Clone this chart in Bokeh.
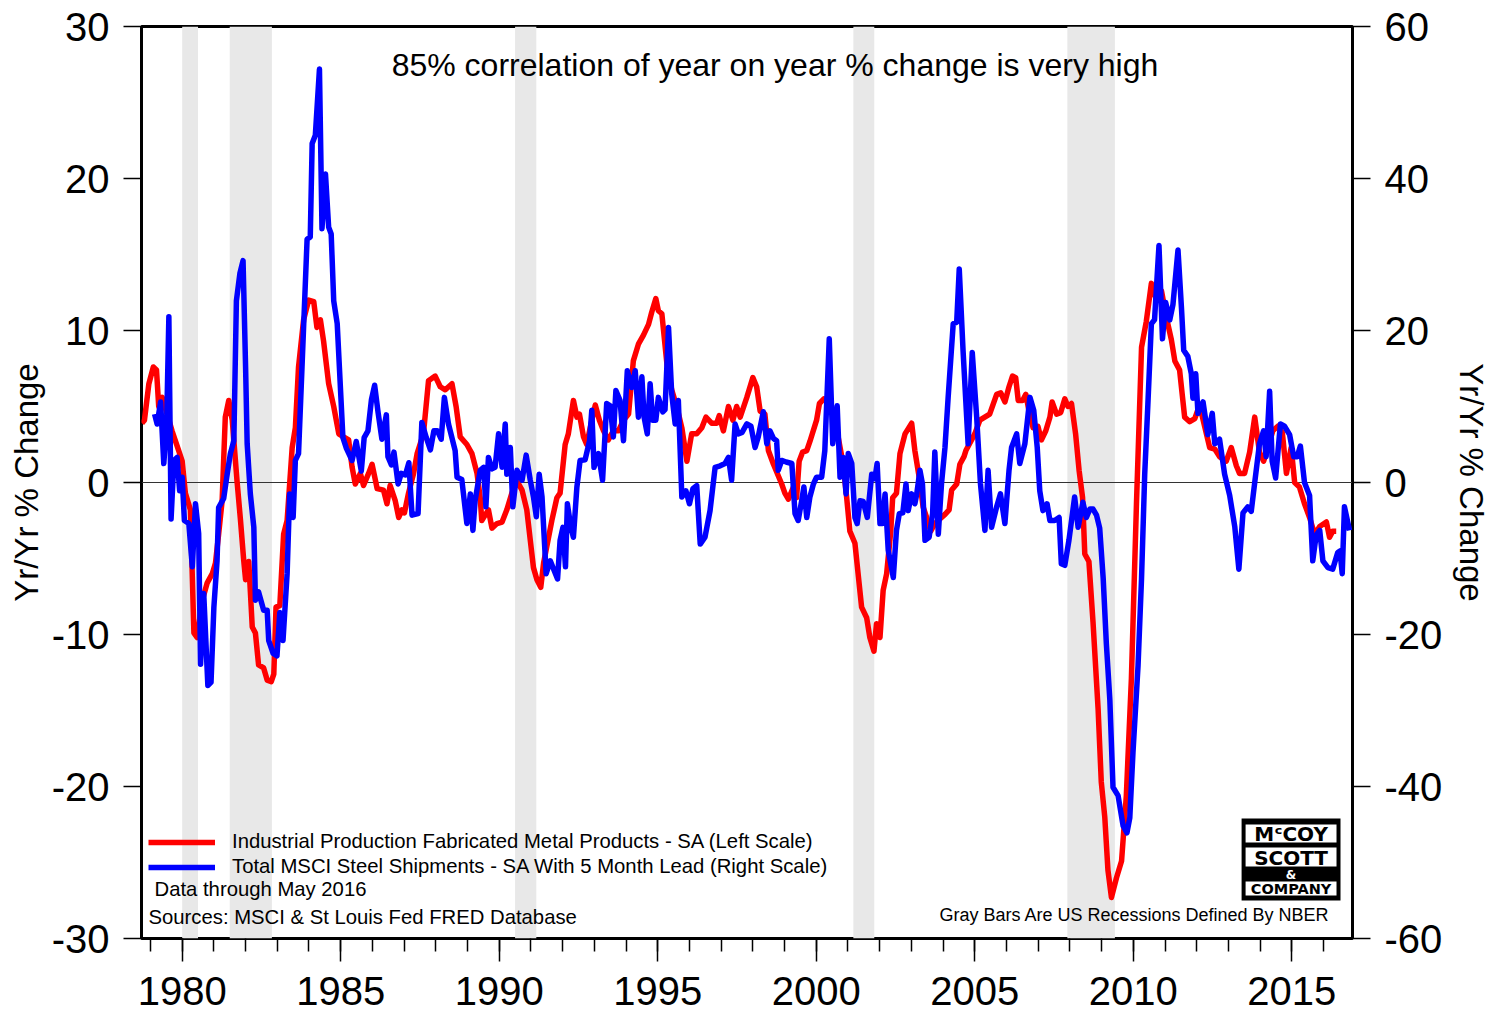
from bokeh.plotting import figure
from bokeh.models import (Range1d, LinearAxis, FixedTicker, Span, Label,
                          BoxAnnotation, Legend, LegendItem)
from bokeh.embed import file_html
from bokeh.resources import INLINE

FONT = "Liberation Sans"
LOGO_FONT = "DejaVu Sans"

# ---------------- data ----------------
# Industrial Production, Fabricated Metal Products, yr/yr % (left scale)
red_year = [1978.73, 1978.81, 1978.95, 1979.09, 1979.19, 1979.26, 1979.37, 1979.68, 1979.89, 1980.00,
            1980.10, 1980.26, 1980.37, 1980.47, 1980.63, 1980.79, 1980.95, 1981.05, 1981.15, 1981.26,
            1981.36, 1981.47, 1981.58, 1981.73, 1981.84, 1981.94, 1982.00, 1982.10, 1982.21, 1982.31,
            1982.41, 1982.57, 1982.68, 1982.81, 1982.89, 1982.96, 1983.08, 1983.20, 1983.31, 1983.47,
            1983.57, 1983.67, 1983.83, 1983.99, 1984.15, 1984.25, 1984.36, 1984.46, 1984.62, 1984.78,
            1984.94, 1985.09, 1985.25, 1985.36, 1985.46, 1985.62, 1985.72, 1985.88, 1985.99, 1986.15,
            1986.35, 1986.46, 1986.56, 1986.72, 1986.83, 1986.93, 1987.01, 1987.14, 1987.30, 1987.41,
            1987.61, 1987.77, 1987.98, 1988.14, 1988.30, 1988.51, 1988.64, 1988.77, 1988.98, 1989.14,
            1989.30, 1989.40, 1989.45, 1989.66, 1989.77, 1989.93, 1990.09, 1990.24, 1990.40, 1990.56,
            1990.72, 1990.87, 1990.98, 1991.08, 1991.19, 1991.31, 1991.40, 1991.66, 1991.82, 1991.92,
            1992.08, 1992.18, 1992.34, 1992.45, 1992.53, 1992.66, 1992.76, 1992.87, 1993.03, 1993.16,
            1993.29, 1993.44, 1993.60, 1993.76, 1993.92, 1994.08, 1994.23, 1994.39, 1994.55, 1994.71,
            1994.81, 1994.94, 1995.02, 1995.13, 1995.29, 1995.44, 1995.60, 1995.76, 1995.92, 1996.07,
            1996.23, 1996.39, 1996.52, 1996.70, 1996.86, 1996.94, 1997.07, 1997.23, 1997.37, 1997.49,
            1997.60, 1997.81, 1998.00, 1998.12, 1998.23, 1998.38, 1998.49, 1998.65, 1998.91, 1999.01,
            1999.12, 1999.28, 1999.38, 1999.46, 1999.57, 1999.70, 1999.80, 2000.01, 2000.10, 2000.24,
            2000.43, 2000.59, 2000.69, 2000.85, 2000.96, 2001.06, 2001.22, 2001.32, 2001.43, 2001.59,
            2001.69, 2001.82, 2001.90, 2002.01, 2002.11, 2002.22, 2002.35, 2002.41, 2002.53, 2002.64,
            2002.80, 2003.01, 2003.11, 2003.25, 2003.37, 2003.48, 2003.61, 2003.74, 2004.06, 2004.19,
            2004.27, 2004.43, 2004.53, 2004.66, 2004.72, 2005.00, 2005.16, 2005.47, 2005.69, 2005.82,
            2005.95, 2006.08, 2006.19, 2006.29, 2006.37, 2006.51, 2006.61, 2006.71, 2006.84, 2006.99,
            2007.10, 2007.24, 2007.37, 2007.44, 2007.58, 2007.71, 2007.84, 2007.94, 2008.05, 2008.18,
            2008.29, 2008.40, 2008.47, 2008.60, 2008.73, 2008.89, 2008.99, 2009.10, 2009.20, 2009.31,
            2009.47, 2009.63, 2009.78, 2009.94, 2010.10, 2010.26, 2010.41, 2010.57, 2010.73, 2010.89,
            2011.04, 2011.20, 2011.31, 2011.46, 2011.62, 2011.78, 2011.94, 2012.09, 2012.25, 2012.41,
            2012.57, 2012.72, 2012.93, 2013.09, 2013.25, 2013.35, 2013.51, 2013.67, 2013.83, 2013.98,
            2014.11, 2014.25, 2014.40, 2014.56, 2014.70, 2014.83, 2014.98, 2015.09, 2015.24, 2015.40,
            2015.56, 2015.72, 2015.88, 2016.09, 2016.19, 2016.29, 2016.40]
red_val = [3.9, 4.1, 6.5, 7.6, 7.4, 5.0, 5.6, 3.4, 2.1, 1.4,
           -0.7, -1.8, -9.9, -10.2, -7.8, -6.6, -6.0, -5.3, -3.4, -1.2,
           4.3, 5.4, 4.1, 0.1, -2.5, -5.1, -6.4, -5.2, -9.5, -9.9,
           -12.0, -12.2, -13.0, -13.1, -12.6, -8.2, -8.1, -3.4, -2.5, 2.3,
           3.6, 7.6, 10.7, 12.0, 11.9, 10.2, 10.7, 9.3, 6.5, 5.0,
           3.2, 3.0, 2.8, 1.0, -0.1, 0.6, -0.2, 0.6, 1.2, -0.4,
           -0.5, -1.4, -0.2, -1.2, -2.3, -1.8, -2.0, -0.7, 0.6, 1.9,
           3.2, 6.7, 7.0, 6.3, 6.1, 6.5, 5.0, 3.0, 2.5, 1.9,
           0.6, -1.0, -2.5, -1.8, -3.0, -2.7, -2.6, -1.8, -0.7, 0.1,
           -0.5, -1.8, -3.8, -5.6, -6.4, -6.9, -5.3, -2.5, -1.0, -0.7,
           2.5, 3.2, 5.4, 4.3, 4.5, 3.0, 2.5, 3.6, 5.1, 4.1,
           3.4, 2.8, 3.4, 3.4, 4.1, 4.5, 8.0, 9.1, 9.7, 10.4,
           11.2, 12.1, 11.3, 11.1, 7.8, 6.1, 5.0, 3.6, 1.4, 3.2,
           3.2, 3.6, 4.3, 3.9, 3.9, 4.4, 3.4, 5.0, 4.1, 5.0,
           4.3, 5.6, 6.9, 6.3, 4.7, 4.5, 2.1, 1.2, -0.1, -0.7,
           -1.1, -0.3, -1.0, 1.4, 2.0, 2.1, 2.7, 4.1, 5.2, 5.5,
           5.2, 4.3, 3.0, 1.2, -1.0, -3.2, -4.0, -6.0, -8.2, -8.9,
           -10.2, -11.1, -9.3, -10.2, -7.1, -6.0, -3.2, -1.0, -0.7, 1.9,
           3.2, 3.9, 2.1, 0.3, -1.6, -2.3, -3.2, -2.7, -2.1, -1.8,
           -0.5, -0.1, 1.2, 1.7, 2.1, 3.2, 4.1, 4.5, 5.8, 5.9,
           5.3, 6.3, 7.0, 6.9, 5.4, 5.4, 5.8, 4.7, 3.6, 3.7,
           2.8, 3.4, 4.3, 5.3, 4.5, 4.6, 5.5, 5.0, 5.2, 3.2,
           0.8, -1.0, -4.7, -5.2, -9.2, -14.9, -19.7, -22.0, -25.5, -27.3,
           -26.0, -24.9, -20.6, -12.9, -1.4, 8.9, 10.6, 13.1, 12.0, 12.6,
           10.9, 9.4, 8.0, 7.4, 4.3, 4.0, 4.2, 5.1, 3.7, 2.3,
           2.2, 1.7, 1.4, 2.3, 1.1, 0.6, 0.6, 2.0, 4.3, 2.0,
           1.4, 2.3, 3.4, 3.7, 3.3, 0.6, 2.3, 0.0, -0.3, -1.4,
           -2.3, -3.4, -2.9, -2.6, -3.6, -3.2, -3.2]

# Total MSCI steel shipments, yr/yr %, 5 month lead (right scale)
blue_year = [1979.13, 1979.21, 1979.32, 1979.42, 1979.51, 1979.58, 1979.65, 1979.74, 1979.84, 1979.92,
             1980.00, 1980.07, 1980.21, 1980.32, 1980.42, 1980.52, 1980.58, 1980.68, 1980.81, 1980.91,
             1981.00, 1981.10, 1981.15, 1981.31, 1981.42, 1981.52, 1981.63, 1981.71, 1981.82, 1981.92,
             1982.00, 1982.05, 1982.15, 1982.26, 1982.31, 1982.41, 1982.57, 1982.68, 1982.73, 1982.87,
             1982.99, 1983.08, 1983.18, 1983.31, 1983.39, 1983.50, 1983.57, 1983.67, 1983.78, 1983.94,
             1984.04, 1984.10, 1984.20, 1984.33, 1984.41, 1984.52, 1984.62, 1984.70, 1984.78, 1984.89,
             1985.07, 1985.18, 1985.36, 1985.49, 1985.65, 1985.74, 1985.86, 1985.97, 1986.07, 1986.18,
             1986.30, 1986.44, 1986.49, 1986.60, 1986.68, 1986.81, 1986.91, 1987.04, 1987.15, 1987.25,
             1987.44, 1987.56, 1987.70, 1987.83, 1987.94, 1988.05, 1988.17, 1988.27, 1988.40, 1988.61,
             1988.67, 1988.82, 1988.98, 1989.09, 1989.17, 1989.24, 1989.40, 1989.51, 1989.58, 1989.66,
             1989.77, 1989.87, 1989.98, 1990.09, 1990.19, 1990.24, 1990.35, 1990.43, 1990.56, 1990.72,
             1990.85, 1990.98, 1991.08, 1991.17, 1991.26, 1991.35, 1991.48, 1991.61, 1991.84, 1991.92,
             1992.01, 1992.09, 1992.15, 1992.26, 1992.34, 1992.45, 1992.55, 1992.71, 1992.85, 1992.92,
             1992.99, 1993.13, 1993.26, 1993.39, 1993.50, 1993.60, 1993.68, 1993.81, 1993.92, 1994.04,
             1994.18, 1994.29, 1994.39, 1994.50, 1994.57, 1994.67, 1994.76, 1994.84, 1994.94, 1995.02,
             1995.16, 1995.23, 1995.34, 1995.44, 1995.55, 1995.65, 1995.76, 1995.89, 1996.00, 1996.11,
             1996.23, 1996.34, 1996.49, 1996.65, 1996.81, 1996.97, 1997.12, 1997.23, 1997.33, 1997.44,
             1997.54, 1997.66, 1997.81, 1997.94, 1998.07, 1998.17, 1998.33, 1998.44, 1998.54, 1998.65,
             1998.75, 1998.80, 1998.91, 1999.05, 1999.23, 1999.33, 1999.43, 1999.54, 1999.61, 1999.70,
             1999.80, 1999.91, 2000.01, 2000.17, 2000.27, 2000.41, 2000.52, 2000.66, 2000.75, 2000.85,
             2000.94, 2001.01, 2001.12, 2001.22, 2001.29, 2001.38, 2001.48, 2001.61, 2001.75, 2001.85,
             2001.92, 2002.01, 2002.09, 2002.17, 2002.27, 2002.43, 2002.53, 2002.62, 2002.73, 2002.83,
             2002.90, 2003.01, 2003.11, 2003.17, 2003.27, 2003.35, 2003.43, 2003.56, 2003.67, 2003.74,
             2003.85, 2003.95, 2004.06, 2004.16, 2004.32, 2004.43, 2004.51, 2004.63, 2004.79, 2004.92,
             2005.06, 2005.18, 2005.32, 2005.42, 2005.53, 2005.69, 2005.81, 2005.95, 2006.08, 2006.16,
             2006.32, 2006.42, 2006.58, 2006.74, 2006.86, 2006.97, 2007.05, 2007.15, 2007.28, 2007.37,
             2007.52, 2007.66, 2007.73, 2007.84, 2007.97, 2008.15, 2008.26, 2008.41, 2008.52, 2008.63,
             2008.73, 2008.84, 2008.94, 2009.05, 2009.15, 2009.26, 2009.36, 2009.52, 2009.68, 2009.80,
             2009.89, 2009.99, 2010.15, 2010.26, 2010.36, 2010.46, 2010.57, 2010.67, 2010.81, 2010.92,
             2011.02, 2011.15, 2011.25, 2011.41, 2011.52, 2011.59, 2011.72, 2011.83, 2011.88, 2011.97,
             2012.04, 2012.20, 2012.35, 2012.49, 2012.57, 2012.72, 2012.88, 2013.04, 2013.20, 2013.33,
             2013.46, 2013.61, 2013.72, 2013.83, 2013.98, 2014.11, 2014.19, 2014.30, 2014.38, 2014.49,
             2014.64, 2014.77, 2014.93, 2015.06, 2015.17, 2015.27, 2015.40, 2015.56, 2015.66, 2015.77,
             2015.88, 2015.98, 2016.14, 2016.29, 2016.45, 2016.52, 2016.59, 2016.66, 2016.82]
blue_val = [9.0, 7.7, 10.6, 2.5, 7.7, 21.8, -4.8, 2.9, 3.3, -1.1,
            0.7, -5.0, -5.4, -11.1, -2.8, -6.7, -23.9, -14.6, -26.7, -26.3,
            -16.4, -10.3, -3.3, -2.1, 1.1, 3.8, 5.5, 23.9, 27.5, 29.2,
            15.2, 5.1, -1.5, -5.9, -15.5, -14.4, -16.8, -16.8, -20.8, -22.5,
            -22.8, -17.1, -20.8, -12.0, -1.5, -4.6, 2.9, 3.8, 15.2, 32.0,
            32.3, 44.6, 45.7, 54.4, 33.4, 40.6, 33.6, 32.7, 23.9, 20.9,
            5.9, 4.5, 2.9, 5.4, 1.5, 5.9, 6.8, 10.9, 12.8, 9.2,
            5.7, 8.9, 3.4, 2.3, 4.0, -0.2, 1.2, 1.0, 2.6, -4.3,
            -4.1, 7.9, 5.9, 4.3, 6.8, 6.8, 5.7, 11.2, 7.7, 4.2,
            0.7, 0.4, -5.4, -1.5, -6.3, -2.4, 1.6, 2.0, -3.2, 3.3,
            1.8, 2.0, 6.4, 2.0, 7.7, 1.1, 4.6, -3.2, 1.6, 0.3,
            3.6, 0.3, -1.9, -4.5, 1.1, -1.9, -12.0, -10.3, -12.7, -7.6,
            -5.9, -11.1, -2.8, -5.9, -7.2, -0.6, 2.9, 3.0, 5.5, 9.5,
            2.0, 3.8, 0.3, 10.4, 10.1, 6.0, 12.1, 10.8, 5.5, 14.7,
            12.5, 14.7, 8.6, 13.9, 8.6, 6.4, 13.0, 8.2, 8.2, 11.2,
            9.3, 9.6, 20.4, 11.7, 7.7, 10.8, -1.9, -1.1, -2.8, -0.8,
            -0.4, -8.1, -7.2, -3.7, 2.0, 2.2, 2.5, 3.3, 0.3, 7.7,
            6.4, 6.6, 7.7, 7.4, 4.6, 6.0, 9.3, 5.1, 6.8, 5.8,
            5.5, 1.6, 2.9, 2.7, 2.5, -4.1, -5.0, -2.4, -0.6, -4.6,
            -1.9, -0.2, 0.7, 0.7, 4.2, 18.9, 5.1, 10.1, 0.7, 3.3,
            -1.5, 3.8, 2.5, -4.6, -5.4, -2.4, -2.5, -4.6, 1.1, 0.5,
            2.5, -5.4, -5.4, -1.5, -8.9, -12.5, -6.3, -4.1, -4.0, -0.2,
            -3.7, -1.5, -2.8, -1.5, 1.6, -0.2, -7.6, -7.2, -4.1, 4.0,
            -6.8, -0.2, 4.6, 11.2, 20.9, 21.1, 28.1, 17.4, 5.1, 17.1,
            8.6, -0.2, -6.3, 1.6, -5.9, -3.2, -1.5, -5.4, 1.6, 4.6,
            6.4, 2.5, 5.1, 11.2, 9.5, 4.6, -1.1, -3.7, -2.8, -5.0,
            -5.0, -4.6, -10.7, -10.9, -7.6, -1.9, -5.9, -2.6, -4.6, -3.5,
            -3.5, -4.3, -6.0, -12.6, -21.2, -28.6, -40.1, -41.2, -45.2, -46.1,
            -44.1, -35.5, -24.1, -12.6, 1.1, 10.3, 20.9, 21.4, 31.2, 18.9,
            23.7, 21.4, 23.4, 30.6, 22.9, 17.4, 16.6, 14.3, 11.1, 14.3,
            9.1, 10.6, 6.3, 9.1, 5.1, 5.7, 1.1, -1.7, -5.8, -11.4,
            -4.0, -3.2, -3.8, 0.0, 5.1, 6.8, 3.4, 12.0, 2.8, 0.6,
            7.7, 7.4, 6.3, 3.4, 3.4, 4.8, 0.0, -1.7, -10.3, -6.9,
            -6.3, -10.3, -11.2, -11.4, -9.2, -9.0, -12.0, -3.2, -6.3]

# NBER recessions (decimal years)
rec_start = [1980.00, 1981.50, 1990.50, 2001.17, 2007.92]
rec_end = [1980.50, 1982.83, 1991.17, 2001.83, 2009.42]

x_major = [1980, 1985, 1990, 1995, 2000, 2005, 2010, 2015]
x_minor = list(range(1979, 2017))
left_ticks = [-30, -20, -10, 0, 10, 20, 30]
left_tick_labels = ["-30", "-20", "-10", "0", "10", "20", "30"]
right_ticks = [-60, -40, -20, 0, 20, 40, 60]
right_tick_labels = ["-60", "-40", "-20", "0", "20", "40", "60"]

red_label = "Industrial Production Fabricated Metal Products - SA (Left Scale)"
blue_label = "Total MSCI Steel Shipments - SA With 5 Month Lead (Right Scale)"
title_text = "85% correlation of year on year % change is very high"
data_note = "Data through May 2016"
source_note = "Sources: MSCI & St Louis Fed FRED Database"
rec_note = "Gray Bars Are US Recessions Defined By NBER"
axis_title = "Yr/Yr % Change"

# ---------------- layout ----------------
W, H = 1493, 1015
BL, BR, BT, BB = 141, 140, 26, 77
X_START, X_END = 1978.717, 2016.914
FW = W - BL - BR
FH = H - BT - BB


def fx(px):
    """page pixel x -> data x (for annotation placement)"""
    return X_START + (px - BL) * (X_END - X_START) / FW


def fy(py):
    """page pixel y -> left-scale data y"""
    return 30 - (py - BT) * 60.0 / FH


p = figure(width=W, height=H, title=None,
           x_range=Range1d(X_START, X_END), y_range=Range1d(-30, 30),
           output_backend="svg", toolbar_location=None,
           min_border_left=BL, min_border_right=BR,
           min_border_top=BT, min_border_bottom=BB,
           background_fill_color="white", border_fill_color="white")
p.extra_y_ranges = {"right": Range1d(-60, 60)}
p.grid.visible = False
p.outline_line_color = "black"
p.outline_line_width = 3

# recession bars, zero line, series
p.quad(left=rec_start, right=rec_end, bottom=-30, top=30,
       fill_color="#e8e8e8", line_color=None, level="underlay")
p.add_layout(Span(location=0, dimension="width", line_color="#333333",
                  line_width=1.2, level="underlay"))
red_r = p.line(red_year, red_val, line_color="#ff0000", line_width=5.5,
               line_join="round")
blue_r = p.line(blue_year, blue_val, line_color="#0000ff", line_width=5.5,
                line_join="round", y_range_name="right")

# axes
xa = p.xaxis[0]
xa.ticker = FixedTicker(ticks=x_major, minor_ticks=x_minor)
ya = p.yaxis[0]
ya.ticker = FixedTicker(ticks=left_ticks)
ya.major_label_overrides = dict(zip(left_ticks, left_tick_labels))
ra = LinearAxis(y_range_name="right", ticker=FixedTicker(ticks=right_ticks))
ra.major_label_overrides = dict(zip(right_ticks, right_tick_labels))
p.add_layout(ra, "right")

for ax in (xa, ya, ra):
    ax.axis_line_color = None
    ax.major_tick_line_color = "black"
    ax.major_tick_line_width = 1.5
    ax.major_tick_in = 0
    ax.minor_tick_in = 0
    ax.major_label_text_font = FONT
    ax.major_label_text_font_size = "40px"
    ax.major_label_text_color = "black"
    ax.axis_label_text_font = FONT
    ax.axis_label_text_font_size = "33px"
    ax.axis_label_text_font_style = "normal"
    ax.axis_label_text_color = "black"

xa.major_tick_out = 23
xa.minor_tick_out = 13
xa.minor_tick_line_color = "black"
xa.minor_tick_line_width = 1.5
xa.major_label_standoff = 15

for ax in (ya, ra):
    ax.major_tick_out = 18
    ax.major_label_standoff = 14
    ax.minor_tick_line_color = None
    ax.axis_label = axis_title
ya.axis_label_standoff = 4
ra.axis_label_standoff = 8

# legend
legend = Legend(items=[LegendItem(label=red_label, renderers=[red_r]),
                       LegendItem(label=blue_label, renderers=[blue_r])],
                location=(7, 60), orientation="vertical",
                glyph_width=67, glyph_height=20, label_height=20,
                label_standoff=17, spacing=2, padding=0, margin=0,
                border_line_color=None, background_fill_alpha=0,
                label_text_font=FONT, label_text_font_size="20.3px",
                label_text_color="black")
p.add_layout(legend)

# texts
p.add_layout(Label(x=fx(775), y=fy(64), text=title_text, text_font=FONT,
                   text_font_size="32px", text_align="center",
                   text_baseline="middle", text_color="black"))
p.add_layout(Label(x=fx(154), y=fy(888), text=data_note, text_font=FONT,
                   text_font_size="20.3px", text_align="left",
                   text_baseline="middle", text_color="black"))
p.add_layout(Label(x=fx(148), y=fy(916), text=source_note, text_font=FONT,
                   text_font_size="20.3px", text_align="left",
                   text_baseline="middle", text_color="black"))
p.add_layout(Label(x=fx(1330), y=fy(914), text=rec_note, text_font=FONT,
                   text_font_size="18px", text_align="right",
                   text_baseline="middle", text_color="black"))

# McCoy Scott & Company logo
def box(l, r, t, b, color):
    p.add_layout(BoxAnnotation(left=fx(l), right=fx(r), top=fy(t), bottom=fy(b),
                               fill_color=color, fill_alpha=1.0,
                               line_alpha=0.0))


box(1242, 1341, 818, 900, "black")
box(1246, 1337, 824, 842, "white")
box(1246, 1337, 847, 866, "white")
box(1246, 1337, 881, 895, "white")
for txt, ypx, size, col in [("M\u1d9cCOY", 833.5, "20px", "black"),
                            ("SCOTT", 857.0, "20px", "black"),
                            ("&", 874.0, "12px", "white"),
                            ("COMPANY", 888.5, "14.5px", "black")]:
    p.add_layout(Label(x=fx(1291.5), y=fy(ypx), text=txt, text_font=LOGO_FONT,
                       text_font_size=size, text_font_style="bold",
                       text_align="center", text_baseline="middle",
                       text_color=col))

open("out.html", "w").write(file_html(p, INLINE, title="chart"))
